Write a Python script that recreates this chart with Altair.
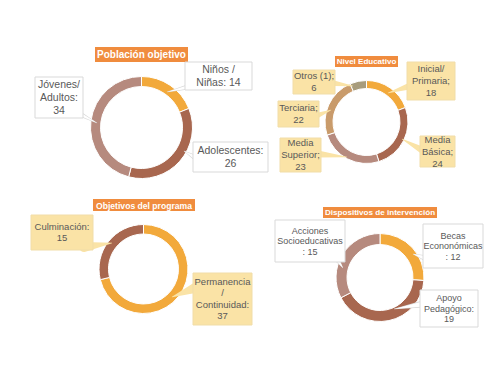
import altair as alt
import pandas as pd

# ---------------- data ----------------
pob_cats = ["Niños / Niñas", "Adolescentes", "Jóvenes/Adultos"]
pob_vals = [14, 26, 34]

niv_cats = ["Inicial/Primaria", "Media Básica", "Media Superior", "Terciaria", "Otros (1)"]
niv_vals = [18, 24, 23, 22, 6]

obj_cats = ["Permanencia / Continuidad", "Culminación"]
obj_vals = [37, 15]

dis_cats = ["Becas Econonómicas", "Apoyo Pedagógico", "Acciones Socioeducativas"]
dis_vals = [12, 19, 15]

titles = ["Población objetivo", "Nivel Educativo", "Objetivos del programa", "Dispositivos de intervención"]

# label text lines (value appended from the data arrays)
pob_lines = [["Niños /", "Niñas: {}"], ["Adolescentes:", "{}"], ["Jóvenes/", "Adultos:", "{}"]]
niv_lines = [["Inicial/", "Primaria;", "{}"], ["Media", "Básica;", "{}"], ["Media", "Superior;", "{}"],
             ["Terciaria;", "{}"], ["Otros (1);", "{}"]]
obj_lines = [["Permanencia", "/", "Continuidad:", "{}"], ["Culminación:", "{}"]]
dis_lines = [["Becas", "Econonómicas", ": {}"], ["Apoyo", "Pedagógico:", "{}"], ["Acciones", "Socioeducativas", ": {}"]]

# ---------------- styles / layout ----------------
FONT = "Liberation Sans, Arial, sans-serif"
ORANGE, BROWN, PINK, TAN, OLIVE = "#F2A93B", "#A8674F", "#B68A7E", "#C99B6B", "#A89C7C"
TITLE_BG = "#F08C3E"
YELLOW, YELLOW_EDGE = "#FAE3A6", "#F1DDA8"
WHITE_EDGE = "#D9D9D9"
TXT = "#595959"
OFF = 8  # page margin

one = pd.DataFrame({"k": [0]})

def P(v):
    return v - OFF

def donut(cats, vals, colors, cx, cy, r_out, r_in):
    df = pd.DataFrame({"cat": cats, "val": vals, "idx": list(range(len(cats)))})
    return alt.Chart(df).mark_arc(radius=r_out, innerRadius=r_in, stroke="white", strokeWidth=1).encode(
        theta=alt.Theta("val:Q", stack=True),
        order=alt.Order("idx:Q"),
        color=alt.Color("cat:N", scale=alt.Scale(domain=cats, range=colors), legend=None),
        x=alt.value(P(cx)), y=alt.value(P(cy)),
    )

def rect(x0, y0, x1, y1, fill, stroke=None):
    kw = dict(fill=fill)
    if stroke:
        kw.update(stroke=stroke, strokeWidth=1)
    return alt.Chart(one).mark_rect(**kw).encode(
        x=alt.value(P(x0)), x2=alt.value(P(x1)), y=alt.value(P(y0)), y2=alt.value(P(y1)))

def text(lines, cx, cy, size=10.5, color=TXT, bold=False, lh=12.3):
    top = cy - (len(lines) - 1) * lh / 2
    return alt.Chart(one).mark_text(
        text=lines, font=FONT, fontSize=size, color=color, align="center", baseline="middle",
        lineHeight=lh, fontWeight="bold" if bold else "normal",
    ).encode(x=alt.value(P(cx)), y=alt.value(P(top)))

def pointer(bx, by, tx, ty, w, color, outline=False):
    df = pd.DataFrame({"x": [P(bx), P(tx)], "y": [P(by), P(ty)], "w": [w, 0.3], "o": [0, 1]})
    enc = dict(x=alt.X("x:Q", scale=None, axis=None), y=alt.Y("y:Q", scale=None, axis=None),
               order=alt.Order("o:Q"))
    outer = alt.Chart(df).mark_trail(color=color).encode(size=alt.Size("w:Q", scale=None, legend=None), **enc)
    if not outline:
        return [outer]
    df2 = df.copy()
    df2["w"] = [max(w - 2, 0.5), 0.1]
    inner = alt.Chart(df2).mark_trail(color="white").encode(size=alt.Size("w:Q", scale=None, legend=None), **enc)
    return [outer, inner]

def title(t, x0, y0, x1, y1, size):
    return [rect(x0, y0, x1, y1, TITLE_BG), text([t], (x0 + x1) / 2, (y0 + y1) / 2 + 0.5, size=size, color="white", bold=True)]

def label(lines, val, box, ptr, fill, edge, outline, size, lh):
    x0, y0, x1, y1 = box
    txt = [l.format(val) for l in lines]
    layers = []
    if ptr:
        layers += pointer(*ptr, color=(WHITE_EDGE if outline else fill), outline=outline)
    layers.append(rect(x0, y0, x1, y1, fill, edge))
    layers.append(text(txt, (x0 + x1) / 2, (y0 + y1) / 2, size=size, lh=lh))
    return layers

arcs = [
    donut(pob_cats, pob_vals, [ORANGE, BROWN, PINK], 141.5, 127.5, 51, 41),
    donut(niv_cats, niv_vals, [ORANGE, BROWN, PINK, TAN, OLIVE], 366.5, 122, 41.5, 33.5),
    donut(obj_cats, obj_vals, [ORANGE, BROWN], 143.5, 269, 44.5, 35),
    donut(dis_cats, dis_vals, [ORANGE, BROWN, PINK], 380, 277.5, 44, 33),
]

ann = []
ann += title(titles[0], 95, 47, 188, 62, 10)
ann += title(titles[1], 335, 56, 398, 67, 8)
ann += title(titles[2], 93, 199, 195, 211, 8.6)
ann += title(titles[3], 323, 207, 437, 218, 8.1)

pob_boxes = [(185, 62, 252, 90), (193, 142, 268, 172), (35, 77, 83, 118)]
pob_ptrs = [(192, 86, 167, 92, 6), (196, 158, 184, 151, 6), (76, 112, 97, 123, 6)]
for i in range(3):
    ann += label(pob_lines[i], pob_vals[i], pob_boxes[i], pob_ptrs[i], "white", WHITE_EDGE, True, 10.5, 13)

niv_boxes = [(407, 62, 455, 100), (420, 136, 455, 167), (280, 138, 321, 172), (278, 101, 319, 127), (293, 70, 335, 94)]
niv_ptrs = [(410, 86, 388, 93, 7), (422, 150, 402, 139, 7), (318, 154, 347, 157, 7), (316, 116, 331, 110, 6), (332, 83, 353, 86, 6)]
for i in range(5):
    ann += label(niv_lines[i], niv_vals[i], niv_boxes[i], niv_ptrs[i], YELLOW, YELLOW_EDGE, False, 9.5, 12)

obj_boxes = [(193, 273, 252, 325), (31, 215, 93, 250)]
obj_ptrs = [(195, 288, 172, 297, 10), (84, 247, 112, 243, 10)]
for i in range(2):
    ann += label(obj_lines[i], obj_vals[i], obj_boxes[i], obj_ptrs[i], YELLOW, YELLOW_EDGE, False, 9.5, 11.5)

dis_boxes = [(423, 224, 483, 268), (420, 290, 478, 327), (275, 220, 345, 262)]
dis_ptrs = [(425, 258, 413, 254, 6), (423, 304, 394, 309, 7), (336, 258, 343, 268, 6)]
for i in range(3):
    ann += label(dis_lines[i], dis_vals[i], dis_boxes[i], dis_ptrs[i], "white", WHITE_EDGE, True, 9, 10.5)

chart = alt.layer(*arcs, *ann).resolve_scale(theta="independent", color="independent").properties(
    width=484, height=359, padding=0, autosize=alt.AutoSizeParams(type="none"),
).configure_view(stroke=None)

chart.save("out.html", embed_options={"renderer": "svg", "actions": False})
